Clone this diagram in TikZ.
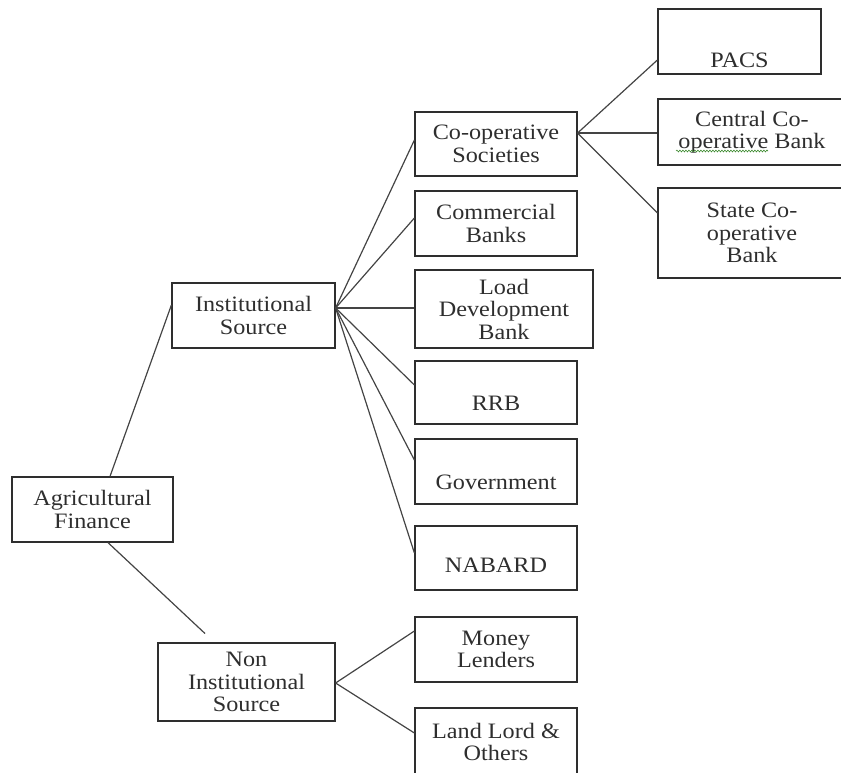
\documentclass[tikz,border=0pt]{standalone}
\usepackage{fontspec}
\setmainfont[FakeStretch=1.1]{Liberation Serif}
\usetikzlibrary{decorations.pathmorphing}
\definecolor{ink}{HTML}{2E2E2E}
\definecolor{wire}{HTML}{444444}
\definecolor{spell}{HTML}{3C8A2E}
\tikzset{
  box/.style={draw=ink, line width=1.2pt, rectangle, align=center, text=ink,
    font=\fontsize{22}{22.5}\selectfont, inner sep=0pt},
  low/.style={text height=#1, text depth=0pt},
  link/.style={draw=wire, line width=1.2pt},
  squiggle/.style={draw=spell, line width=0.6pt,
    decorate, decoration={snake, segment length=3pt, amplitude=0.9pt}}
}
\begin{document}
\begin{tikzpicture}[x=1pt, y=-1pt]
  \useasboundingbox (0,0) rectangle (841,772);

  % root and the two source groups
  \node[box, minimum width=161pt, minimum height=65pt] (af)  at (92.5,509.5) {Agricultural\\Finance};
  \node[box, minimum width=163pt, minimum height=65pt] (is)  at (253.5,315.5) {Institutional\\Source};
  \node[box, minimum width=177pt, minimum height=78pt] (nis) at (246.5,682) {Non\\Institutional\\Source};

  % institutional sources
  \node[box, minimum width=162pt, minimum height=64pt] (cs)  at (496,144) {Co-operative\\Societies};
  \node[box, minimum width=162pt, minimum height=65pt] (cb)  at (496,223.5) {Commercial\\Banks};
  \node[box, minimum width=178pt, minimum height=78pt] (ldb) at (504,309) {Load\\Development\\Bank};
  \node[box, low=35.6pt, minimum width=162pt, minimum height=63pt] (rrb) at (496,392.5) {RRB};
  \node[box, low=35.6pt, minimum width=162pt, minimum height=65pt] (gov) at (496,471.5) {Government};
  \node[box, low=28.6pt, minimum width=162pt, minimum height=64pt] (nab) at (496,558) {NABARD};

  % non-institutional sources
  \node[box, minimum width=162pt, minimum height=65pt] (ml) at (496,649.5) {Money\\Lenders};
  \node[box, minimum width=162pt, minimum height=68pt] (ll) at (496,742) {Land Lord \&\\Others};

  % co-operative tiers
  \node[box, low=51.6pt, minimum width=163pt, minimum height=65pt] (pacs) at (739.5,41.5) {PACS};
  \node[box, minimum width=188pt, minimum height=66pt] (ccb) at (752,132) {Central Co-\\operative Bank};
  \node[box, minimum width=188pt, minimum height=90pt] (scb) at (752,233) {State Co-\\operative\\Bank};

  % connectors
  \draw[link] ([xshift=17.5pt]af.north) -- ([yshift=10.5pt]is.west);
  \draw[link, shorten >=13pt] ([xshift=15.5pt]af.south) -- ([xshift=-32pt]nis.north);

  \draw[link] ([yshift=7.5pt]is.east) -- ([yshift=4pt]cs.west);
  \draw[link] ([yshift=7.5pt]is.east) -- ([yshift=5.5pt]cb.west);
  \draw[link] ([yshift=7.5pt]is.east) -- ([yshift=1pt]ldb.west);
  \draw[link] ([yshift=7.5pt]is.east) -- ([yshift=7.5pt]rrb.west);
  \draw[link] ([yshift=7.5pt]is.east) -- ([yshift=11.5pt]gov.west);
  \draw[link] ([yshift=7.5pt]is.east) -- ([yshift=5pt]nab.west);

  \draw[link] ([yshift=11pt]cs.east) -- ([yshift=-18.5pt]pacs.west);
  \draw[link] ([yshift=11pt]cs.east) -- ([yshift=-1pt]ccb.west);
  \draw[link] ([yshift=11pt]cs.east) -- ([yshift=20pt]scb.west);

  \draw[link] ([yshift=-1pt]nis.east) -- ([yshift=18.5pt]ml.west);
  \draw[link] ([yshift=-1pt]nis.east) -- ([yshift=9pt]ll.west);

  % spell-check underline under "operative"
  \draw[squiggle] ([xshift=-76pt,yshift=-19pt]ccb.center) -- ([xshift=16pt,yshift=-19pt]ccb.center);
\end{tikzpicture}
\end{document}
